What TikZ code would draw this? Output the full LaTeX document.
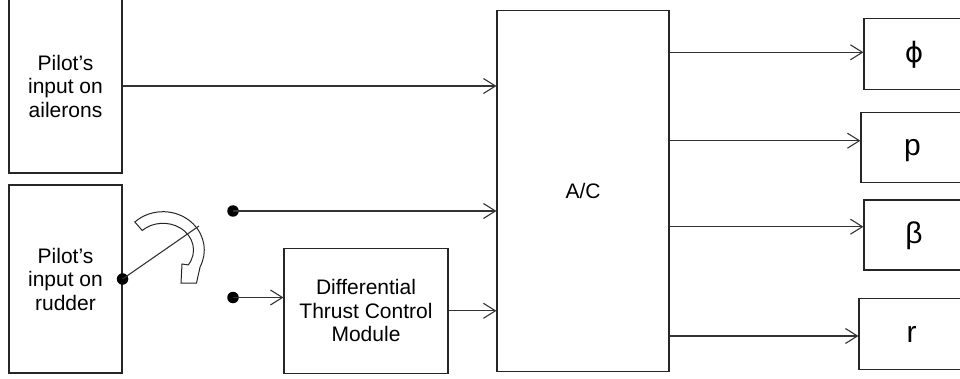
\documentclass[tikz,border=0pt]{standalone}
\usepackage{fontspec}
\setmainfont{Liberation Sans}
\newfontfamily\symfont{DejaVu Sans}
\usetikzlibrary{arrows.meta,calc}
\begin{document}
\begin{tikzpicture}[x=1pt,y=-1pt,
  blk/.style={draw=black!85, line width=1.1pt, rectangle, inner sep=0pt, align=center, font=\fontsize{21}{23.5}\selectfont},
  outbox/.style={blk, font=\fontsize{30}{32}\selectfont, text height=24pt, text depth=7pt},
  arr/.style={draw=black!80, line width=1.1pt, -{Straight Barb[length=12pt,width=15pt,line width=1.1pt]}},
  ln/.style={draw=black!80, line width=1.1pt},
  dot/.style={circle, fill=black, inner sep=0pt, minimum size=11.5pt}]
\useasboundingbox (0,0) rectangle (960,379);
\clip (0,0) rectangle (960,379);
% blocks
\node[blk, minimum width=113pt, minimum height=174pt] (ail) at (65.5,86) {Pilot’s\\input on\\ailerons};
\node[blk, minimum width=113pt, minimum height=188pt] (rud) at (65.5,279) {Pilot’s\\input on\\rudder};
\node[blk, minimum width=172pt, minimum height=361pt] (ac) at (583,191) {A/C};
\node[blk, minimum width=164pt, minimum height=125pt] (dtc) at (366,310.8) {Differential\\Thrust Control\\Module};
\node[outbox, minimum width=100pt, minimum height=71pt] (phi) at (914,53.7) {\symfont\fontsize{28}{30}\selectfont ϕ};
\node[outbox, minimum width=103pt, minimum height=70pt] (p) at (912.5,147.5) {p};
\node[outbox, minimum width=100pt, minimum height=70pt] (beta) at (914,235) {β};
\node[outbox, minimum width=105pt, minimum height=71pt] (r) at (911.5,333.7) {r};
% switch contacts
\node[dot] (d1) at (233,211) {};
\node[dot] (d2) at (233,297.5) {};
% inputs
\draw[arr] (ail.east) -- (ail.east -| ac.west);
\draw[arr] (d1.center) -- (d1 -| ac.west);
\draw[arr] (d2.center) -- (d2 -| dtc.west);
\draw[arr] (dtc.east) -- (dtc.east -| ac.west);
% outputs
\coordinate (phiin) at ([yshift=1.4pt]phi.west);
\coordinate (pin) at ([yshift=6.8pt]p.west);
\coordinate (betain) at ([yshift=8.3pt]beta.west);
\coordinate (rin) at ([yshift=-2.3pt]r.west);
\draw[arr] (ac.east |- phiin) -- (phiin);
\draw[arr] (ac.east |- pin) -- (pin);
\draw[arr] (ac.east |- betain) -- (betain);
\draw[arr] (ac.east |- rin) -- (rin);
% hollow curved arrow
\filldraw[fill=white, draw=black!85, line width=1pt, line join=miter]
  ($(163,250)+(-133:41.3 and 38.3)$) arc[start angle=-133, end angle=26, x radius=41.3, y radius=38.3]
  -- (196.5,283) -- (181,283) -- (182,264)
  -- ($(163,250)+(34:30.5 and 26.7)$) arc[start angle=34, end angle=-133, x radius=30.5, y radius=26.7]
  -- cycle;
% switch blade
\node[dot] (piv) at (rud.east) {};
\coordinate (swend) at (199,226);
\draw[ln] (piv.center) -- (swend);
\end{tikzpicture}
\end{document}
